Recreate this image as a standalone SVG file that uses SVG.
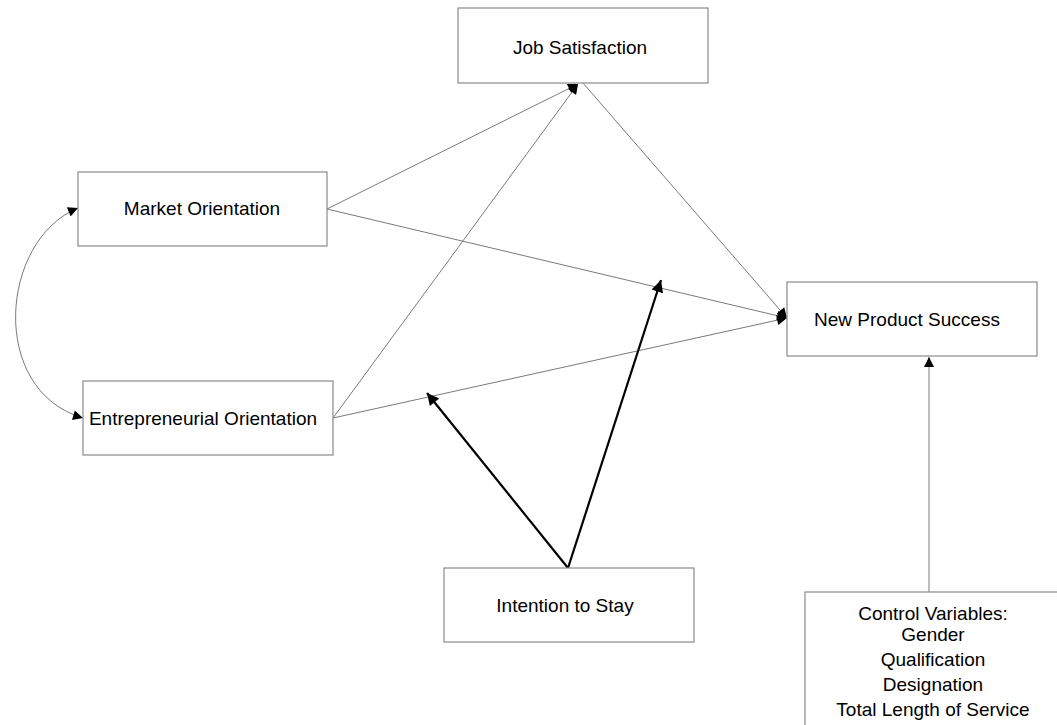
<svg xmlns="http://www.w3.org/2000/svg" width="1057" height="725" viewBox="0 0 1057 725">
<defs>
<style>
.box{fill:#fff;stroke:#8a8a8a;stroke-width:1.2}
.t{font-family:"Liberation Sans",Arial,sans-serif;font-size:19px;fill:#000;text-anchor:middle}
.thin{fill:none;stroke:#7a7a7a;stroke-width:1}
.bold{fill:none;stroke:#000;stroke-width:2.2}
</style>
<marker id="ah" viewBox="0 0 10 10" refX="10" refY="5" markerWidth="12" markerHeight="10" markerUnits="userSpaceOnUse" orient="auto-start-reverse"><path d="M0,0 L10,5 L0,10 z" fill="#000"/></marker>
<marker id="ahb" viewBox="0 0 10 10" refX="10" refY="5" markerWidth="14" markerHeight="12" markerUnits="userSpaceOnUse" orient="auto"><path d="M0,0 L10,5 L0,10 z" fill="#000"/></marker>
</defs>
<rect width="1057" height="725" fill="#fff"/>
<g id="connectors">
<path class="thin" d="M78,208 C0,240 -12,390 83,418" marker-start="url(#ah)" marker-end="url(#ah)"/>
<line class="thin" x1="327" y1="209" x2="578" y2="84" marker-end="url(#ah)"/>
<line class="thin" x1="333" y1="418" x2="578" y2="84" marker-end="url(#ah)"/>
<line class="thin" x1="583" y1="83" x2="787" y2="318" marker-end="url(#ah)"/>
<line class="thin" x1="327" y1="209" x2="787" y2="318" marker-end="url(#ah)"/>
<line class="thin" x1="333" y1="418" x2="787" y2="318" marker-end="url(#ah)"/>
<line class="thin" x1="929" y1="592" x2="929" y2="357" marker-end="url(#ah)"/>
<line class="bold" x1="568" y1="568" x2="427" y2="393" marker-end="url(#ahb)"/>
<line class="bold" x1="568" y1="568" x2="661" y2="280" marker-end="url(#ahb)"/>
</g>
<g id="job-satisfaction"><rect class="box" x="458" y="8" width="250" height="75"/><text class="t" x="580" y="54">Job Satisfaction</text></g>
<g id="market-orientation"><rect class="box" x="78" y="172" width="249" height="74"/><text class="t" x="202" y="215">Market Orientation</text></g>
<g id="entrepreneurial-orientation"><rect class="box" x="83" y="381" width="250" height="74"/><text class="t" x="203" y="425">Entrepreneurial Orientation</text></g>
<g id="new-product-success"><rect class="box" x="787" y="282" width="250" height="74"/><text class="t" x="907" y="326">New Product Success</text></g>
<g id="intention-to-stay"><rect class="box" x="444" y="568" width="250" height="74"/><text class="t" x="565" y="612">Intention to Stay</text></g>
<g id="control-variables"><rect class="box" x="805" y="592" width="260" height="150"/>
<text class="t" x="933" y="620">Control Variables:</text>
<text class="t" x="933" y="641">Gender</text>
<text class="t" x="933" y="666">Qualification</text>
<text class="t" x="933" y="691">Designation</text>
<text class="t" x="933" y="716">Total Length of Service</text></g>
</svg>
